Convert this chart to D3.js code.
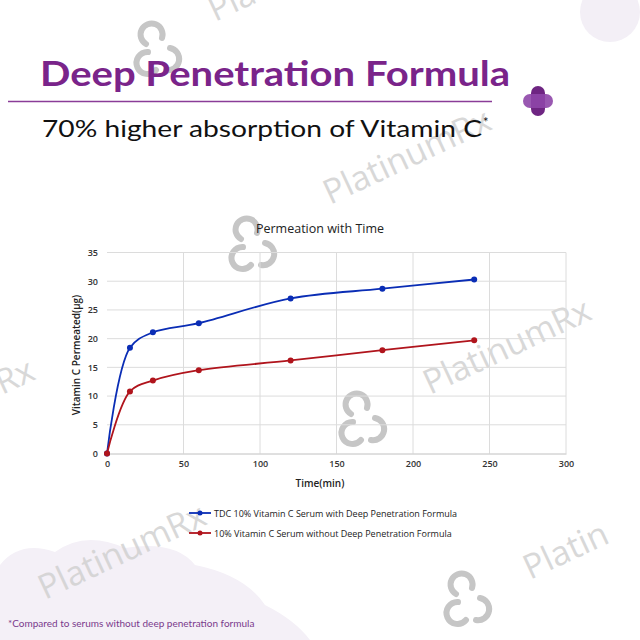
<!DOCTYPE html>
<html>
<head>
  <meta charset="utf-8">
  <script src="https://d3js.org/d3.v7.min.js"></script>
  <style>
    body { margin: 0; background: #fff; }
    svg { display: block; font-family: "Open Sans", sans-serif; }
  </style>
</head>
<body>
  <svg width="640" height="640"></svg>
  <script>
    // data
    const times = [0, 15, 30, 60, 120, 180, 240];
    const withDPF = [0, 18.4, 21.1, 22.7, 27.0, 28.7, 30.3];
    const withoutDPF = [0, 10.8, 12.7, 14.5, 16.2, 18.0, 19.7];
    const seriesNames = [
      "TDC 10% Vitamin C Serum with Deep Penetration Formula",
      "10% Vitamin C Serum without Deep Penetration Formula"
    ];
    const xTicks = [0, 50, 100, 150, 200, 250, 300];
    const yTicks = [0, 5, 10, 15, 20, 25, 30, 35];

    const svg = d3.select("svg");
    const colors = ["#0a2db5", "#b0141c"];

    // background blobs
    svg.append("circle").attr("cx", 610).attr("cy", 12).attr("r", 30).attr("fill", "#f3eff6");
    svg.append("path")
      .attr("d", "M0,640 L0,565 Q20,540 55,552 Q85,530 125,548 Q175,540 195,565 Q245,575 265,605 Q295,620 310,640 Z")
      .attr("fill", "#f4f0f7");

    // watermarks
    const wm = svg.append("g").attr("fill", "#cfcfcf").attr("font-family", "Open Sans, sans-serif");
    [[215, 22, "Pla"], [330, 205, "PlatinumRx"], [430, 395, "PlatinumRx"], [530, 580, "Platin"], [2, 395, "Rx"], [45, 600, "PlatinumRx"]]
      .forEach(([x, y, t]) => {
        wm.append("text").attr("transform", `translate(${x},${y}) rotate(-25)`)
          .attr("font-size", 34).attr("opacity", 0.8).text(t);
      });
    function logo(x, y) {
      const g = svg.append("g").attr("transform", `translate(${x},${y})`)
        .attr("fill", "none").attr("stroke", "#c6c6c6").attr("stroke-width", 6).attr("stroke-linecap", "round");
      g.append("path").attr("d", "M-14,-6 a11,11 0 1,1 16,-6");
      g.append("path").attr("d", "M-12,2 a11,11 0 1,0 8,18");
      g.append("path").attr("d", "M10,-2 a11,11 0 1,1 -4,22");
    }
    logo(160, 50); logo(255, 245); logo(365, 420); logo(470, 600);

    // header
    svg.append("text").attr("x", 40).attr("y", 86)
      .attr("font-family", "Lato, sans-serif").attr("font-weight", 700).attr("font-size", 35)
      .attr("textLength", 470).attr("lengthAdjust", "spacingAndGlyphs")
      .attr("fill", "#7a248a").text("Deep Penetration Formula");
    svg.append("line").attr("x1", 8).attr("x2", 492).attr("y1", 101.5).attr("y2", 101.5)
      .attr("stroke", "#8a3c98").attr("stroke-width", 1.5);
    const plus = svg.append("g").attr("transform", "translate(538,101)");
    plus.append("rect").attr("x", -7).attr("y", -15).attr("width", 14).attr("height", 30).attr("rx", 7).attr("fill", "#6e2582");
    plus.append("rect").attr("x", -15).attr("y", -7).attr("width", 30).attr("height", 14).attr("rx", 7).attr("fill", "#8e46a8").attr("opacity", 0.9);
    svg.append("text").attr("x", 42).attr("y", 137)
      .attr("font-family", "Lato, sans-serif").attr("font-size", 24).attr("fill", "#111")
      .attr("textLength", 440).attr("lengthAdjust", "spacingAndGlyphs")
      .text("70% higher absorption of Vitamin C");
    svg.append("text").attr("x", 483).attr("y", 127)
      .attr("font-family", "Lato, sans-serif").attr("font-size", 13).attr("fill", "#111").text("*");

    // chart
    const x = d3.scaleLinear().domain([0, 300]).range([107, 566]);
    const y = d3.scaleLinear().domain([0, 35]).range([453.5, 252.5]);

    svg.append("text").attr("x", 320).attr("y", 233).attr("text-anchor", "middle")
      .attr("font-size", 12.5).attr("fill", "#222").text("Permeation with Time");

    const grid = svg.append("g").attr("stroke", "#dcdcdc").attr("stroke-width", 1);
    grid.selectAll(".h").data(yTicks.slice(1)).join("line")
      .attr("x1", x(0)).attr("x2", x(300)).attr("y1", d => y(d)).attr("y2", d => y(d));
    grid.selectAll(".v").data(xTicks.slice(1)).join("line")
      .attr("y1", y(0)).attr("y2", y(35)).attr("x1", d => x(d)).attr("x2", d => x(d));

    const xAxis = svg.append("g").attr("transform", `translate(0,${y(0)})`)
      .call(d3.axisBottom(x).tickValues(xTicks).tickSize(0).tickPadding(7));
    xAxis.select(".domain").attr("stroke", "#c0c0c0");
    const yAxis = svg.append("g").attr("transform", `translate(${x(0)},0)`)
      .call(d3.axisLeft(y).tickValues(yTicks).tickSize(0).tickPadding(9));
    yAxis.select(".domain").remove();
    svg.selectAll(".tick text").attr("font-family", "Open Sans, sans-serif")
      .attr("font-size", 9).attr("font-weight", 600).attr("fill", "#333");

    svg.append("text").attr("x", 320).attr("y", 487).attr("text-anchor", "middle")
      .attr("font-size", 10).attr("font-weight", 600).attr("fill", "#222").text("Time(min)");
    svg.append("text").attr("transform", `translate(80,${(y(0) + y(35)) / 2 + 2}) rotate(-90)`)
      .attr("text-anchor", "middle").attr("font-size", 10).attr("font-weight", 600).attr("fill", "#222")
      .text("Vitamin C Permeated(μg)");

    const line = d3.line().x(d => x(d[0])).y(d => y(d[1])).curve(d3.curveCatmullRom.alpha(0.5));
    [withDPF, withoutDPF].forEach((vals, i) => {
      const pts = times.map((t, j) => [t, vals[j]]);
      svg.append("path").datum(pts).attr("d", line)
        .attr("fill", "none").attr("stroke", colors[i]).attr("stroke-width", 1.8);
      svg.append("g").selectAll("circle").data(pts).join("circle")
        .attr("cx", d => x(d[0])).attr("cy", d => y(d[1])).attr("r", 3).attr("fill", colors[i]);
    });

    // legend
    const legend = svg.append("g");
    seriesNames.forEach((name, i) => {
      const ly = 513 + i * 20;
      legend.append("line").attr("x1", 189).attr("x2", 211).attr("y1", ly).attr("y2", ly)
        .attr("stroke", colors[i]).attr("stroke-width", 1.8);
      legend.append("circle").attr("cx", 200).attr("cy", ly).attr("r", 2.5).attr("fill", colors[i]);
      legend.append("text").attr("x", 214).attr("y", ly + 3.5)
        .attr("font-size", 9).attr("fill", "#222").text(name);
    });

    // footnote
    svg.append("text").attr("x", 8).attr("y", 627)
      .attr("font-family", "Lato, sans-serif").attr("font-size", 10).attr("fill", "#7a3a8c")
      .text("*Compared to serums without deep penetration formula");
  </script>
</body>
</html>
